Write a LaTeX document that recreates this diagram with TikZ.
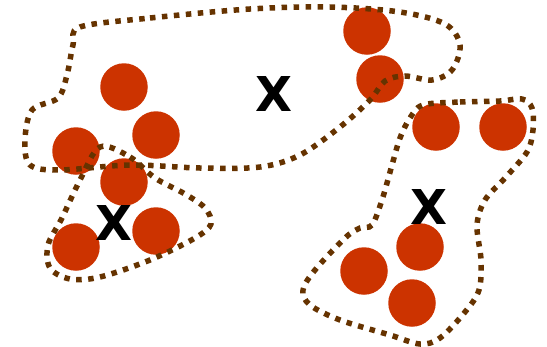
\documentclass[tikz,border=0pt]{standalone}
\usepackage{fontspec}
\newfontfamily\xfont{DejaVu Sans}
\definecolor{dotred}{RGB}{204,51,0}
\definecolor{setbrown}{RGB}{102,51,0}
\begin{document}
\begin{tikzpicture}[x=1pt,y=-1pt,
  elem/.style={circle,fill=dotred,draw=none,minimum size=47.5pt,inner sep=0pt},
  setline/.style={draw=setbrown,line width=5.5pt,dash pattern=on 5.5pt off 6.5pt,line cap=butt},
  xlabel/.style={inner sep=0pt,font=\xfont\bfseries\fontsize{48}{48}\selectfont}]
\useasboundingbox (0,0) rectangle (547,346);
% elements
\node[elem] (c1) at (124,87) {};
\node[elem] (c2) at (156,135) {};
\node[elem] (c3) at (76,151) {};
\node[elem] (c4) at (124,182) {};
\node[elem] (c5) at (156,231) {};
\node[elem] (c6) at (76,247) {};
\node[elem] (c7) at (367,31) {};
\node[elem] (c8) at (380,79) {};
\node[elem] (c9) at (436,127) {};
\node[elem] (c10) at (503,127) {};
\node[elem] (c11) at (420,247) {};
\node[elem] (c12) at (364,271) {};
\node[elem] (c13) at (412,303) {};
% set outlines
\draw[setline] plot[smooth cycle,tension=0.55] coordinates {
 (80,27) (150,18) (250,9) (330,7) (400,12) (445,24) (460,45) (452,70) (432,80)
 (405,76) (385,81) (370,100) (340,127) (300,155) (260,167) (200,168) (130,165)
 (60,170) (30,165) (25,140) (32,110) (58,98) (67,75) (73,45)};
\draw[setline] plot[smooth cycle,tension=0.55] coordinates {
 (100,147) (130,157) (155,178) (185,194) (205,208) (211,224) (195,238) (150,260)
 (100,277) (70,279) (50,268) (48,245) (62,218) (80,180)};
\draw[setline] plot[smooth cycle,tension=0.55] coordinates {
 (423,105) (460,102) (500,101) (522,99) (532,108) (533,130) (527,152) (505,178)
 (485,200) (477,225) (481,260) (479,290) (465,312) (440,338) (420,344) (390,335)
 (340,320) (310,305) (303,290) (315,270) (345,238) (360,228) (372,225) (382,200)
 (392,165) (400,138) (410,118)};
% labels
\node[xlabel] (x1) at (274,94.5) {X};
\node[xlabel] (x2) at (114,222.5) {X};
\node[xlabel] (x3) at (429,206.5) {X};
\end{tikzpicture}
\end{document}
